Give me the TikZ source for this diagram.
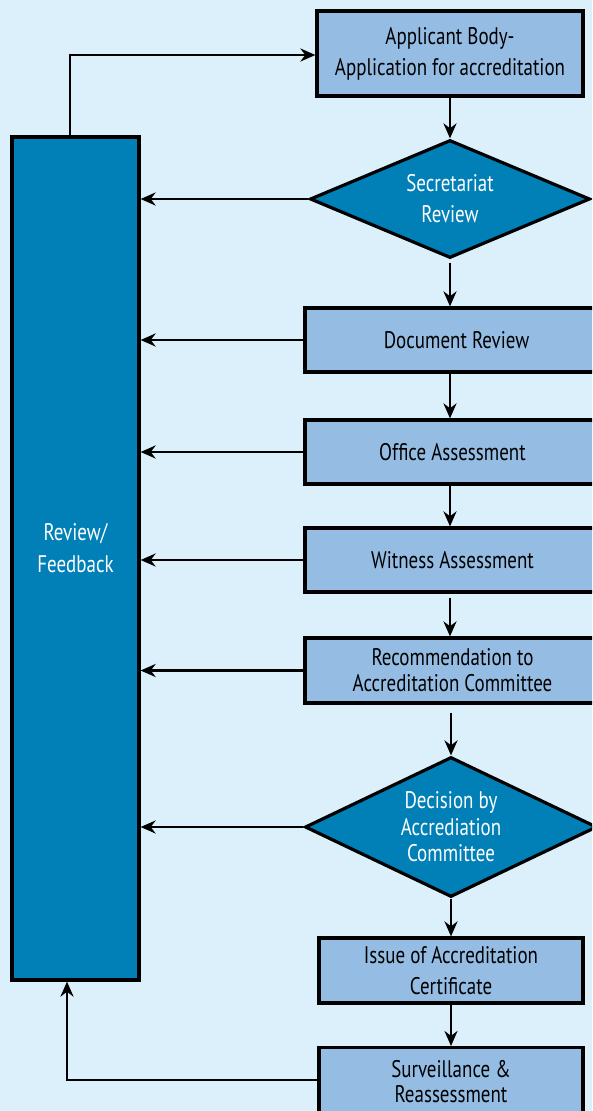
\documentclass[tikz,border=0pt]{standalone}
\usepackage{fontspec}
\setmainfont{PT Sans}[FakeStretch=0.79]
\usetikzlibrary{shapes.geometric,arrows.meta}
\definecolor{bg}{RGB}{220,240,251}
\definecolor{lightbox}{RGB}{149,189,228}
\definecolor{darkbox}{RGB}{0,128,183}
\tikzset{
  lbox/.style={draw=black, line width=3.2pt, fill=lightbox, inner sep=2pt, align=center, font=\fontsize{24}{31}\selectfont, text=black},
  dbox/.style={draw=black, line width=3.2pt, fill=darkbox, inner sep=2pt, align=center, font=\fontsize{24}{31}\selectfont, text=white},
  ddia/.style={diamond, draw=black, line width=3.2pt, fill=darkbox, inner sep=0pt, align=center, font=\fontsize{24}{31}\selectfont, text=white},
  arr/.style={draw=black, line width=2.8pt, -{Stealth[length=15pt,width=13pt]}},
}
\begin{document}
\begin{tikzpicture}[x=1pt,y=-1pt]
\useasboundingbox (0,0) rectangle (592,1111);
\clip (0,0) rectangle (592,1111);
\fill[bg] (0,0) rectangle (592,1111);
\node[lbox, minimum width=266pt, minimum height=85pt] (app) at (450,53.5) {Applicant Body-\\Application for accreditation};
\node[ddia, shape aspect=2.4, minimum width=280pt, minimum height=118pt] (sec) at (450,199) {Secretariat\\Review};
\node[lbox, minimum width=295pt, minimum height=64pt] (doc) at (452.5,340) {\hspace*{8pt}Document Review};
\node[lbox, minimum width=295pt, minimum height=64pt] (off) at (452.5,452) {Office Assessment};
\node[lbox, minimum width=295pt, minimum height=64pt] (wit) at (452.5,560) {Witness Assessment};
\node[lbox, minimum width=295pt, minimum height=65pt, font=\fontsize{24}{26}\selectfont] (rec) at (452.5,670.5) {Recommendation to\\Accreditation Committee};
\node[ddia, shape aspect=2, minimum width=292pt, minimum height=140pt, font=\fontsize{24}{26.5}\selectfont] (dec) at (451,827) {Decision by\\Accrediation\\Committee};
\node[lbox, minimum width=264pt, minimum height=65pt] (iss) at (451,970.5) {Issue of Accreditation\\Certificate};
\node[lbox, minimum width=264pt, minimum height=68pt, font=\fontsize{24}{25}\selectfont, anchor=north] (sur) at (451,1046) {Surveillance \&\\Reassessment};
\node[dbox, minimum width=127pt, minimum height=843pt] (fb) at (75.5,558.5) {};
\node[text=white, align=center, font=\fontsize{24}{32}\selectfont] (fbt) at ([yshift=10.5pt]fb.center) {Review/\\Feedback};
% vertical flow
\draw[arr] (app.south) -- (sec.north);
\draw[arr, shorten <=3pt] (sec.south) -- (sec.south |- doc.north);
\draw[arr] (doc.south -| sec.south) -- (off.north -| sec.south);
\draw[arr] (off.south -| sec.south) -- (wit.north -| sec.south);
\draw[arr, shorten <=4pt] (wit.south -| sec.south) -- (rec.north -| sec.south);
\draw[arr, shorten <=8pt] (rec.south -| dec.north) -- (dec.north);
\draw[arr] (dec.south) -- (iss.north);
\draw[arr] (iss.south) -- (sur.north);
% feedback arrows
\draw[arr] (sec.west) -- (fb.east |- sec.west);
\draw[arr] (doc.west) -- (fb.east |- doc.west);
\draw[arr] (off.west) -- (fb.east |- off.west);
\draw[arr] (wit.west) -- (fb.east |- wit.west);
\draw[arr] (rec.west) -- (fb.east |- rec.west);
\draw[arr] (dec.west) -- (fb.east |- dec.west);
\coordinate (c1) at (67,1080);
\draw[arr] (sur.west |- c1) -- (c1) -- (c1 |- fb.south);
\coordinate (c2) at (70,55);
\draw[arr] (c2 |- fb.north) -- (c2) -- (app.west |- c2);
\end{tikzpicture}
\end{document}
